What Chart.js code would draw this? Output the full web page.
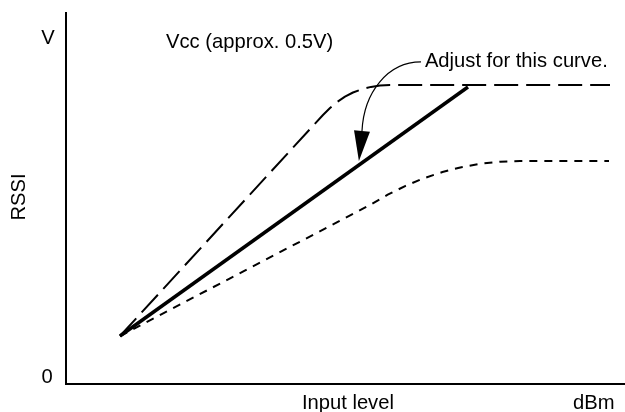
<!DOCTYPE html>
<html><head><meta charset="utf-8">
<script src="https://cdn.jsdelivr.net/npm/chart.js@4/dist/chart.umd.min.js"></script>
<style>html,body{margin:0;padding:0;background:#fff;}canvas{display:block;}</style>
</head><body>
<canvas id="c" width="625" height="412"></canvas>
<script>
// Data (x: input level 0..100 arbitrary units, y: RSSI 0..100 arbitrary units)
const xLongDash  = [9.66, 45.97, 47.23, 48.48, 49.91, 51.34, 52.95, 54.56, 56.17, 57.96, 97.32];
const yLongDash  = [12.94, 72.51, 74.39, 76.01, 77.44, 78.57, 79.46, 80.08, 80.46, 80.59, 80.59];
const xSolid     = [9.66, 71.91];
const ySolid     = [12.94, 80.05];
const xShortDash = [9.66, 54.38, 57.55, 60.75, 64.03, 67.35, 70.73, 74.17, 77.67, 81.22, 97.14];
const yShortDash = [12.94, 48.25, 51.02, 53.42, 55.47, 57.14, 58.44, 59.37, 59.92, 60.11, 60.11];

const axisLabels = { yTop: 'V', yZero: '0', yTitle: 'RSSI', xTitle: 'Input level', xUnit: 'dBm' };
const noteVcc = 'Vcc (approx. 0.5V)';
const noteAdjust = 'Adjust for this curve.';
// annotation anchors in data units
const vccAt = [17.9, 90.6];
const adjustAt = [64.2, 85.4];
const arrowPath = [[63.5, 86.8], [57.6, 86.8], [53.3, 78.7], [52.95, 68.2]];
const arrowTip = [52.4, 60.1];

const FONT = '20.2px "Liberation Sans", Arial, sans-serif';
const pts = (xs, ys) => xs.map((x, i) => ({x, y: ys[i]}));

const annot = {
  id: 'annot',
  afterDraw(chart) {
    const {ctx, chartArea: a, scales: {x, y}} = chart;
    const P = d => [x.getPixelForValue(d[0]), y.getPixelForValue(d[1])];
    ctx.save();
    ctx.fillStyle = '#000';
    ctx.strokeStyle = '#000';
    ctx.font = FONT;
    ctx.textBaseline = 'alphabetic';
    ctx.textAlign = 'center';
    ctx.fillText(axisLabels.yTop, a.left - 18, a.top + 31);
    ctx.fillText(axisLabels.yZero, a.left - 19, a.bottom - 1);
    ctx.textAlign = 'left';
    ctx.fillText(axisLabels.xTitle, x.getPixelForValue(42.2), a.bottom + 25);
    ctx.fillText(axisLabels.xUnit, x.getPixelForValue(90.7), a.bottom + 25);
    ctx.save();
    ctx.translate(a.left - 41, (a.top + a.bottom) / 2 - 1.5);
    ctx.rotate(-Math.PI / 2);
    ctx.textAlign = 'center';
    ctx.fillText(axisLabels.yTitle, 0, 0);
    ctx.restore();
    // notes
    const v = P(vccAt);
    ctx.fillText(noteVcc, v[0], v[1]);
    const ad = P(adjustAt);
    ctx.fillText(noteAdjust, ad[0], ad[1]);
    // arrow
    const p = arrowPath.map(P);
    ctx.lineWidth = 1.2;
    ctx.beginPath();
    ctx.moveTo(p[0][0], p[0][1]);
    ctx.bezierCurveTo(p[1][0], p[1][1], p[2][0], p[2][1], p[3][0], p[3][1]);
    ctx.stroke();
    const t = P(arrowTip), b = p[3];
    let dx = t[0] - b[0], dy = t[1] - b[1];
    const L = Math.hypot(dx, dy); dx /= L; dy /= L;
    const hw = 8;
    ctx.beginPath();
    ctx.moveTo(b[0] - dy * hw, b[1] + dx * hw);
    ctx.lineTo(b[0] + dy * hw, b[1] - dx * hw);
    ctx.lineTo(t[0], t[1]);
    ctx.closePath();
    ctx.fill();
    ctx.restore();
  }
};

new Chart(document.getElementById('c'), {
  type: 'line',
  data: {
    datasets: [
      { data: pts(xLongDash, yLongDash), borderColor: '#000', borderWidth: 2, borderDash: [24, 8],
        pointRadius: 0, tension: 0, fill: false, borderJoinStyle: 'round' },
      { data: pts(xSolid, ySolid), borderColor: '#000', borderWidth: 3.5,
        pointRadius: 0, tension: 0, fill: false },
      { data: pts(xShortDash, yShortDash), borderColor: '#000', borderWidth: 2, borderDash: [8, 7],
        pointRadius: 0, tension: 0, fill: false, borderJoinStyle: 'round' }
    ]
  },
  options: {
    responsive: false,
    animation: false,
    devicePixelRatio: 1,
    layout: { padding: { left: 66, top: 13, right: 0, bottom: 28 } },
    plugins: { legend: { display: false }, tooltip: { enabled: false } },
    scales: {
      x: { type: 'linear', min: 0, max: 100,
           grid: { display: false, drawTicks: false }, ticks: { display: false },
           border: { display: true, color: '#000', width: 2 } },
      y: { type: 'linear', min: 0, max: 100,
           grid: { display: false, drawTicks: false }, ticks: { display: false },
           border: { display: true, color: '#000', width: 2 } }
    }
  },
  plugins: [annot]
});
</script>
</body></html>
